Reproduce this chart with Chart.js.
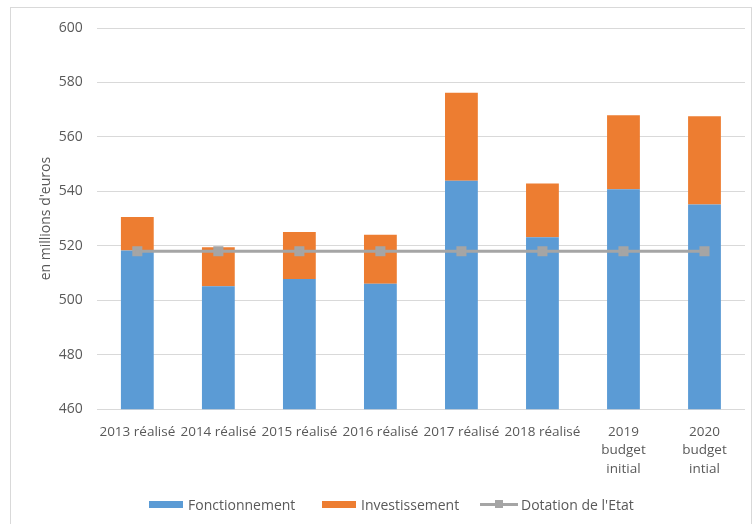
<!DOCTYPE html>
<html>
<head>
<meta charset="utf-8">
<script src="https://cdn.jsdelivr.net/npm/chart.js@4/dist/chart.umd.min.js"></script>
<style>
  html, body { margin: 0; padding: 0; background: #fff; overflow: hidden; }
  #frame { position: absolute; left: 10px; top: 7px; width: 740px; height: 600px; border: 1px solid #d9d9d9; }
  #wrap { position: absolute; left: 0; top: 0; width: 753px; height: 524px; }
  .leg { position: absolute; top: 494px; height: 20px; display: flex; align-items: center;
         font: 14px 'Open Sans', sans-serif; color: #595959; white-space: nowrap; }
  .box { display: inline-block; width: 34px; height: 7px; margin-right: 5px; }
  .ln { position: relative; display: inline-block; width: 38px; height: 10px; margin-right: 3px; }
  .ln::before { content: ''; position: absolute; left: 0; right: 0; top: 3.5px; height: 3px; background: #a5a5a5; }
  .ln::after { content: ''; position: absolute; left: 15px; top: 1px; width: 8px; height: 8px; background: #a5a5a5; }
</style>
</head>
<body>
<div id="frame"></div>
<div id="wrap"><canvas id="chart" width="753" height="524"></canvas></div>
<div id="legend"></div>
<script>
// categories and series
const categories = ['2013 réalisé', '2014 réalisé', '2015 réalisé', '2016 réalisé', '2017 réalisé', '2018 réalisé',
  ['2019', 'budget', 'initial'], ['2020', 'budget', 'intial']];
const fonctionnement = [518.3, 505.2, 507.8, 506.1, 543.9, 523.2, 540.8, 535.2];
const investissement = [12.3, 14.3, 17.3, 18.0, 32.3, 19.7, 27.2, 32.4];
const dotation = [518, 518, 518, 518, 518, 518, 518, 518];
const yTicks = [460, 480, 500, 520, 540, 560, 580, 600];

const BLUE = '#5b9bd5', ORANGE = '#ed7d31', GREY = '#a5a5a5', TXT = '#595959';
const FONT = "'Open Sans', sans-serif";

const chart = new Chart(document.getElementById('chart'), {
  data: {
    labels: categories,
    datasets: [
      { type: 'bar', label: 'Fonctionnement', data: fonctionnement, backgroundColor: BLUE, stack: 'b', order: 2,
        categoryPercentage: 1, barPercentage: 0.405 },
      { type: 'bar', label: 'Investissement', data: investissement, backgroundColor: ORANGE, stack: 'b', order: 2,
        categoryPercentage: 1, barPercentage: 0.405 },
      { type: 'line', label: "Dotation de l'Etat", data: dotation, borderColor: GREY, borderWidth: 3,
        pointStyle: 'rect', pointRadius: 5, pointBackgroundColor: GREY, pointBorderColor: GREY, stack: 'd', order: 1 }
    ]
  },
  options: {
    responsive: false,
    animation: false,
    layout: { padding: { left: 34, right: 4, top: 28, bottom: 40 } },
    plugins: { tooltip: { enabled: false }, legend: { display: false } },
    scales: {
      x: {
        stacked: true,
        grid: { display: false },
        border: { display: false },
        ticks: { color: TXT, font: { family: FONT, size: 13.5, lineHeight: 1.4 }, maxRotation: 0, autoSkip: false, padding: 5 }
      },
      y: {
        stacked: true,
        min: 460, max: 600,
        afterBuildTicks: axis => { axis.ticks = yTicks.map(v => ({ value: v })); },
        grid: { color: '#d9d9d9', lineWidth: 1, drawTicks: false },
        border: { display: false },
        ticks: { color: TXT, font: { family: FONT, size: 14 }, padding: 14 },
        title: { display: true, text: "en millions d'euros", color: TXT, font: { family: FONT, size: 14 }, padding: { top: 4, bottom: -10 } }
      }
    }
  }
});

// legend as html, Excel style
const legendLeft = [149, 322, 480];
const legendEl = document.getElementById('legend');
chart.data.datasets.forEach((ds, i) => {
  const item = document.createElement('div');
  item.className = 'leg';
  item.style.left = legendLeft[i] + 'px';
  const icon = document.createElement('span');
  if (ds.type === 'line') icon.className = 'ln';
  else { icon.className = 'box'; icon.style.background = ds.backgroundColor; }
  item.appendChild(icon);
  item.appendChild(document.createTextNode(ds.label));
  legendEl.appendChild(item);
});
</script>
</body>
</html>
